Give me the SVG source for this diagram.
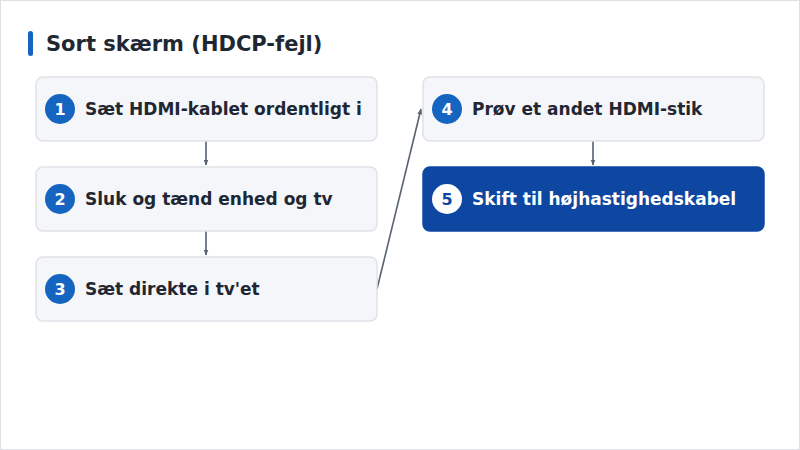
<svg xmlns="http://www.w3.org/2000/svg" width="800" height="450" viewBox="0 0 800 450">
<style>
.box{fill:#f5f6f9;stroke:#dfe2e7;stroke-width:1.5}
.final{fill:#0d47a1;stroke:#0d47a1;stroke-width:1.5}
.num{fill:#1565c0}
.numf{fill:#ffffff}
.nt{font-family:"DejaVu Sans",sans-serif;font-weight:bold;font-size:16px;fill:#ffffff;text-anchor:middle}
.ntf{font-family:"DejaVu Sans",sans-serif;font-weight:bold;font-size:16px;fill:#0d47a1;text-anchor:middle}
.lbl{font-family:"DejaVu Sans",sans-serif;font-weight:bold;font-size:17px;fill:#1f2733}
.lblf{font-family:"DejaVu Sans",sans-serif;font-weight:bold;font-size:17px;fill:#ffffff}
.conn{stroke:#566270;stroke-width:1.6;fill:none;marker-end:url(#arr)}
</style>
<defs>
<marker id="arr" viewBox="0 0 10 10" refX="9" refY="5" markerWidth="6" markerHeight="6" orient="auto" markerUnits="userSpaceOnUse">
<path d="M0,1 L10,5 L0,9 z" fill="#566270"/>
</marker>
</defs>
<rect x="0.5" y="0.5" width="799" height="449" fill="#ffffff" stroke="#dde1e6"/>
<g id="title">
<rect x="28" y="31" width="5" height="25" rx="2.5" fill="#1565c0"/>
<text x="46" y="51" font-family="DejaVu Sans,sans-serif" font-weight="bold" font-size="21" fill="#1f2733">Sort skærm (HDCP-fejl)</text>
</g>
<g id="connectors">
<line class="conn" x1="206" y1="141" x2="206" y2="165"/>
<line class="conn" x1="206" y1="231" x2="206" y2="255"/>
<line class="conn" x1="377" y1="289" x2="421" y2="109"/>
<line class="conn" x1="593" y1="141" x2="593" y2="165"/>
</g>
<g id="node1">
<rect class="box" x="36" y="77" width="341" height="64" rx="7"/>
<circle class="num" cx="60" cy="109" r="15"/>
<text class="nt" x="60" y="115">1</text>
<text class="lbl" x="85" y="115">Sæt HDMI-kablet ordentligt i</text>
</g>
<g id="node2">
<rect class="box" x="36" y="167" width="341" height="64" rx="7"/>
<circle class="num" cx="60" cy="199" r="15"/>
<text class="nt" x="60" y="205">2</text>
<text class="lbl" x="85" y="205">Sluk og tænd enhed og tv</text>
</g>
<g id="node3">
<rect class="box" x="36" y="257" width="341" height="64" rx="7"/>
<circle class="num" cx="60" cy="289" r="15"/>
<text class="nt" x="60" y="295">3</text>
<text class="lbl" x="85" y="295">Sæt direkte i tv'et</text>
</g>
<g id="node4">
<rect class="box" x="423" y="77" width="341" height="64" rx="7"/>
<circle class="num" cx="447" cy="109" r="15"/>
<text class="nt" x="447" y="115">4</text>
<text class="lbl" x="472" y="115">Prøv et andet HDMI-stik</text>
</g>
<g id="node5">
<rect class="final" x="423" y="167" width="341" height="64" rx="7"/>
<circle class="numf" cx="447" cy="199" r="15"/>
<text class="ntf" x="447" y="205">5</text>
<text class="lblf" x="472" y="205">Skift til højhastighedskabel</text>
</g>
</svg>
